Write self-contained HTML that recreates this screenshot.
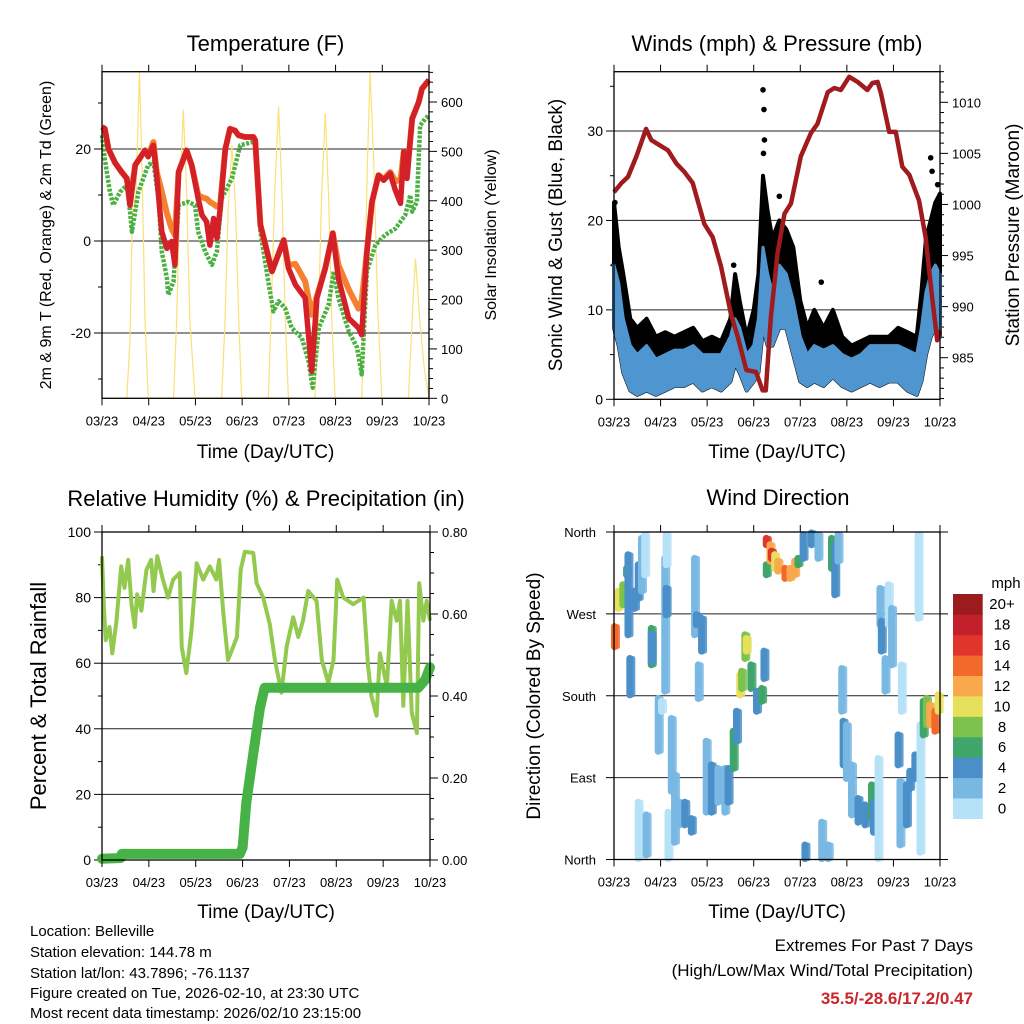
<!DOCTYPE html>
<html><head><meta charset="utf-8"><title>Station Meteogram</title>
<style>
html,body{margin:0;padding:0;background:#fff;}
svg{display:block;font-family:"Liberation Sans",Arial,sans-serif;}
</style></head>
<body>
<svg id="fig" width="1024" height="1024" viewBox="0 0 1024 1024" xmlns="http://www.w3.org/2000/svg">
<rect x="0" y="0" width="1024" height="1024" fill="#fff"/>
<g id="layer"></g>
<g font-size="15" fill="#000">
<text x="30" y="936">Location: Belleville</text>
<text x="30" y="957">Station elevation: 144.78 m</text>
<text x="30" y="978">Station lat/lon: 43.7896; -76.1137</text>
<text x="30" y="998">Figure created on Tue, 2026-02-10, at 23:30 UTC</text>
<text x="30" y="1018">Most recent data timestamp: 2026/02/10 23:15:00</text>
</g>
<g text-anchor="end">
<text x="973" y="951" font-size="17">Extremes For Past 7 Days</text>
<text x="973" y="976" font-size="17">(High/Low/Max Wind/Total Precipitation)</text>
<text x="973" y="1004" font-size="17" font-weight="bold" fill="#c8262a">35.5/-28.6/17.2/0.47</text>
</g>
</svg>
<script>
// ---------- shared x axis ----------
const dayLabels = ["03/23","04/23","05/23","06/23","07/23","08/23","09/23","10/23"];

// ---------- Temperature panel data ----------
const tempTimes = [0,0.06,0.14,0.28,0.42,0.53,0.6,0.71,0.92,0.99,1.1,1.17,1.28,1.39,1.49,1.56,1.64,1.81,1.92,2.06,2.14,2.24,2.31,2.39,2.46,2.53,2.64,2.74,2.85,2.92,3.06,3.24,3.28,3.39,3.64,3.89,3.99,4.14,4.35,4.49,4.6,4.78,4.94,5.06,5.28,5.49,5.56,5.67,5.78,5.92,6.03,6.17,6.28,6.39,6.46,6.53,6.64,6.78,6.85,7.0];
const temp2m = [24.8,24.4,20,17,15,13.6,7.8,16.5,19.7,18.3,20.8,14.3,2,-1.6,-0.1,-5.2,15,19.7,16.5,9.2,5.6,4.2,-0.9,4.9,0.6,7.1,20,24.4,24,23,22.6,22.6,21.9,3.5,-6.6,0.2,-5.9,-9.5,-12.4,-28.3,-12.4,-5.9,1.7,-8.1,-16.8,-18.9,-20.4,-2.3,8.5,14.3,13.2,14.7,11,8.2,19.4,13.6,26.6,30.2,33.1,35];
const temp9m = [24.8,24.4,20,17,15,13.6,8.5,16.5,19.7,18.5,21.5,15,10.7,6,2.7,1.3,15,19.7,16.5,10,9.5,9.2,8.5,8,7.5,8,20,24.4,24,23,22.6,22.6,21.9,3.5,-6.6,0.2,-5.2,-5,-8.8,-16,-12,-5.9,1.7,-5.2,-10.5,-14.7,-13,-2.3,8.5,14.3,13.5,15,13,13.3,19.4,14.5,26.6,30.2,33.1,35];
const dewTimes = [0,0.06,0.17,0.24,0.39,0.53,0.6,0.64,0.78,0.99,1.1,1.21,1.28,1.39,1.42,1.53,1.64,1.85,1.99,2.06,2.21,2.35,2.46,2.56,2.78,2.96,3.21,3.28,3.39,3.56,3.67,3.78,3.92,4.06,4.28,4.42,4.51,4.64,4.85,4.96,5.06,5.28,5.46,5.56,5.67,5.85,6.06,6.28,6.49,6.6,6.64,6.74,6.81,6.92,7.0];
const dew2m = [23,17.9,10.7,7.8,10.7,12.1,6.4,2,10.7,16.5,17.2,9.2,-2.3,-8.1,-11.7,-8.8,7.8,8.5,7.8,2,-2.3,-5.2,-2.3,9.2,13.6,20.8,21.5,20.8,2,-8.8,-15.3,-13.1,-14.6,-18.9,-21.1,-26.1,-31.9,-18.9,-13.9,-6.6,-12.4,-19.6,-23.2,-29,-6.6,-0.9,1.3,2.7,5.6,10,6.4,8.5,25.1,26.6,27.3];
const solarTimes = [0,0.53,0.6,0.66,0.72,0.8,0.86,0.92,0.99,1.53,1.6,1.67,1.74,1.81,1.88,1.99,2.56,2.63,2.7,2.78,2.86,2.93,2.99,3.56,3.62,3.7,3.78,3.85,3.92,3.99,4.56,4.63,4.7,4.78,4.85,4.92,4.99,5.56,5.62,5.68,5.74,5.82,5.9,5.99,6.56,6.6,6.66,6.71,6.8,6.9,7.0];
const solarVals = [0,0,120,420,380,663,450,160,0,0,160,420,584,420,160,0,0,150,380,513,380,150,0,0,170,420,590,420,170,0,0,160,410,577,410,160,0,0,190,470,661,470,190,0,0,80,200,283,160,60,0];
const tempTicks = [20,0,-20];
const solarTicks = [0,100,200,300,400,500,600];

// ---------- Wind panel data ----------
const windTimes = [0,0.1,0.2,0.35,0.5,0.7,0.9,1.1,1.3,1.5,1.7,1.9,2.1,2.3,2.5,2.6,2.7,2.85,3.0,3.1,3.2,3.3,3.4,3.55,3.7,3.85,4.0,4.15,4.3,4.5,4.7,4.9,5.1,5.3,5.5,5.7,5.9,6.1,6.3,6.5,6.6,6.7,6.8,6.9,7.0];
const windHi = [15,13,9,6,5,6,4.5,5,5.5,5.5,6,5,5,5,7,9,8,5,6,9,17,14,12,15,14,11,7,5,6,5.5,6,5,4.5,5,6,6,6,6,5.5,5,8,12,14,15,14];
const windLo = [8,6,3,1,0.5,1,0.5,1,1.5,1.5,2,1,1.5,1,2,4,3,1,2,3,8,6,6,8,8,5,2,1.5,2,1.5,2.5,1.5,1,1.5,2,1.5,2,2,1,0.5,2,5,7,8,7];
const gustHi = [22,17,14,9,8,9,7,7.5,7,7.5,8,6.5,7,6.5,9,14,11,7,10,14,25,21,18,20,19,17,11,8,10,8,10,7,6,6.5,7,7,7,8,7.5,7,12,18,20,22,23];
const gustOutTimes = [0.0,0.02,2.57,3.2,3.22,3.23,3.21,3.55,4.45,6.8,6.83,6.95];
const gustOutVals = [15,22,15,34.6,32.4,29,27.5,22.7,13.1,27,25.5,24];
const presTimes = [0,0.16,0.3,0.48,0.69,0.8,0.98,1.16,1.34,1.51,1.69,1.94,2.12,2.3,2.51,2.66,2.84,3.05,3.19,3.26,3.37,3.51,3.66,3.8,4.01,4.23,4.37,4.59,4.73,4.87,5.05,5.23,5.44,5.55,5.66,5.73,5.91,6.05,6.19,6.34,6.55,6.69,6.84,6.94,7.0];
const presVals = [1001.2,1002.1,1002.7,1004.7,1007.4,1006.3,1005.8,1005.3,1004,1003.2,1002.1,998.1,996.8,993.9,989.3,987,983.8,983.6,981.8,981.8,989,995.2,999.1,1000.1,1004.7,1007,1007.9,1011,1011.4,1011.2,1012.5,1012,1011.2,1011.9,1012,1010.9,1007.1,1007.1,1003.7,1002.9,1000.4,996.8,990.6,986.7,987.7];
const windTicks = [0,10,20,30];
const presTicks = [985,990,995,1000,1005,1010];

// ---------- RH panel data ----------
const rhTimes = [0,0.04,0.08,0.16,0.22,0.31,0.41,0.48,0.56,0.63,0.7,0.75,0.84,0.95,1.05,1.1,1.18,1.3,1.41,1.52,1.66,1.7,1.8,1.91,2.02,2.16,2.3,2.44,2.5,2.59,2.69,2.8,2.88,2.96,3.05,3.23,3.3,3.44,3.58,3.69,3.83,3.94,4.08,4.19,4.29,4.4,4.58,4.69,4.83,4.94,5.02,5.15,5.36,5.58,5.68,5.75,5.86,5.93,6.08,6.18,6.29,6.36,6.43,6.52,6.61,6.72,6.77,6.86,6.93,7.0];
const rhVals = [92.6,77,67,71,63,73,89.5,83,91.5,78,71,81,76,88.5,91.5,82,92.6,85.5,80,85.5,87.5,65,57,70,90.5,85.5,89.5,85.5,91.5,75,61,65,68,88.5,94,93.6,84.4,80,72,61,51,65,74,68,73,82,79,61,54,61,85.5,80,78,80,59,50,44,63,53,79,73,79,47,79,45,38.7,84.4,73,79,73];
const precipTimes = [0,0.4,0.42,2.94,3.0,3.08,3.23,3.37,3.47,6.75,6.9,7.0];
const precipVals = [0.003,0.005,0.015,0.015,0.03,0.14,0.26,0.37,0.42,0.42,0.44,0.47];
const rhTicks = [0,20,40,60,80,100];
const precipTicks = ["0.00","0.20","0.40","0.60","0.80"];

// ---------- Wind direction panel data ----------
const dirTimes = [0.01,0.09,0.19,0.27,0.30,0.34,0.44,0.52,0.52,0.59,0.66,0.69,0.80,0.80,0.95,1.02,1.09,1.12,1.12,1.16,1.23,1.30,1.41,1.52,1.66,1.73,1.77,1.88,1.81,1.98,2.09,2.23,2.38,2.45,2.56,2.63,2.70,2.74,2.81,2.84,2.94,3.06,3.17,3.22,3.27,3.27,3.35,3.38,3.45,3.52,3.67,3.78,3.88,3.95,4.06,4.24,4.38,4.10,4.46,4.60,4.67,4.74,4.81,4.89,4.92,4.99,5.10,5.24,5.39,5.53,5.57,5.67,5.71,5.74,5.82,5.89,5.96,6.10,6.17,6.14,6.28,6.35,6.46,6.53,6.57,6.64,6.71,6.78,6.89,6.96];
const dirLo = [234,276,280,313,247,181,276,287,1,295,313,5,214,217,119,163,185,324,269,1,75,19,38,38,30,247,258,229,177,52,52,63,52,63,100,130,181,188,221,229,188,163,174,199,346,313,328,331,320,317,309,309,313,324,331,346,331,1,1,1,320,291,328,163,104,89,49,41,38,45,30,1,258,229,185,258,214,104,163,16,38,78,89,265,8,137,148,148,141,163];
const dirHi = [256,295,302,320,335,221,295,324,63,353,357,49,254,248,177,174,331,357,298,52,155,93,63,63,45,331,269,265,214,130,104,100,100,100,141,163,203,207,247,243,214,185,188,229,353,324,346,339,335,328,320,320,328,331,357,359,357,16,41,16,353,346,357,210,152,148,104,67,60,82,63,111,298,262,221,302,276,137,214,86,82,97,115,357,148,174,177,170,163,181];
const dirSpeed = [14,10,8,6,4,4,4,4,1,2,1,2,6,4,2,0,2,1,4,1,2,2,2,4,4,2,4,4,2,2,4,2,2,4,6,4,10,8,8,10,6,4,6,4,16,6,12,16,10,12,14,12,12,6,4,4,2,4,2,2,6,4,2,2,4,2,2,4,4,6,4,1,2,4,2,1,2,4,1,2,4,4,4,1,1,6,8,12,14,10];
const dirTickLabels = ["North","East","South","West","North"];
const speedLabels = ["0","2","4","6","8","10","12","14","16","18","20+"];
const speedColors = ["#b6e2f8","#79b8e3","#4a8fc8","#3fa56a","#7cc24c","#e6e05a","#f9a94b","#f26a2b","#e0352a","#c2202a","#9b1b1e"];

// ---------- drawing helpers ----------
const NS = "http://www.w3.org/2000/svg";
const layer = document.getElementById("layer");
function mk(tag, attrs, parent){
  const e = document.createElementNS(NS, tag);
  for (const k in attrs) e.setAttribute(k, attrs[k]);
  (parent||layer).appendChild(e);
  return e;
}
function lin(d0,d1,r0,r1){ return v => r0 + (v-d0)/(d1-d0)*(r1-r0); }
function txt(x,y,s,size,anchor,parent,extra){
  const e = mk("text", Object.assign({x:x,y:y,"font-size":size,"text-anchor":anchor||"middle",fill:"#000"}, extra||{}), parent);
  e.textContent = s; return e;
}
function pathFrom(xs, ys, sx, sy){
  let d = "";
  for (let i=0;i<xs.length;i++) d += (i?"L":"M") + sx(xs[i]).toFixed(1) + "," + sy(ys[i]).toFixed(1);
  return d;
}
function bandFrom(xs, hi, lo, sx, sy){
  let d = "";
  for (let i=0;i<xs.length;i++) d += (i?"L":"M") + sx(xs[i]).toFixed(1) + "," + sy(hi[i]).toFixed(1);
  for (let i=xs.length-1;i>=0;i--) d += "L" + sx(xs[i]).toFixed(1) + "," + sy(lo[i]).toFixed(1);
  return d + "Z";
}
function xAxis(g, P, sx, labelY){
  for (let i=0;i<dayLabels.length;i++){
    const x = sx(i);
    const t1 = mk("line",{x1:x,y1:P.y1,x2:x,y2:P.y1+7,stroke:"#000","stroke-width":1},g);
    
    
    const t2 = mk("line",{x1:x,y1:P.y0,x2:x,y2:P.y0-7,stroke:"#000","stroke-width":1},g);
    
    
    const l = txt(x, P.y1+27, dayLabels[i], 13, "middle", g);
    
    
  }
  const at = txt((P.x0+P.x1)/2, labelY, "Time (Day/UTC)", 19, "middle", g);
  
  
}
function frame(g, P){
  const r = mk("rect",{x:P.x0,y:P.y0,width:P.x1-P.x0,height:P.y1-P.y0,fill:"none",stroke:"#000","stroke-width":1.3},g);
  
  
}
function grid(g, P, y){
  const l = mk("line",{x1:P.x0,y1:y,x2:P.x1,y2:y,stroke:"#222","stroke-width":1},g);
  
  
}
function tick(g, x, y, len){
  const l = mk("line",{x1:x,y1:y,x2:x+len,y2:y,stroke:"#000","stroke-width":1},g);
  
  
}

// ================= Temperature panel =================
(function(){
  const P = {x0:102,x1:429,y0:71.7,y1:398.3};
  const g = mk("g",{});
  
  
  const sx = lin(0,7,P.x0,P.x1);
  const sy = lin(0,20,241,149);
  const ss = lin(0,600,P.y1,102);
  const title = txt((P.x0+P.x1)/2, 51, "Temperature (F)", 22, "middle", g);
  
  
  for (const v of tempTicks) grid(g,P,sy(v));
  for (let v=-30; v<=30; v+=10){ tick(g,P.x0,sy(v), v%20===0?-8:-4); }
  for (const v of tempTicks){
    const l = txt(P.x0-11, sy(v)+5, String(v), 14, "end", g);
    
    
  }
  for (let v=0; v<=660; v+=20){ tick(g,P.x1,ss(v), v%100===0?8:4); }
  for (const v of solarTicks){
    const l = txt(P.x1+12, ss(v)+5, String(v), 13, "start", g);
    
    
  }
  const sol = mk("path",{d:pathFrom(solarTimes,solarVals,sx,ss),fill:"none",stroke:"#fbe07a","stroke-width":1.2},g);
  
  
  const dew = mk("path",{d:pathFrom(dewTimes,dew2m,sx,sy),fill:"none",stroke:"#4cb043","stroke-width":4.5,"stroke-dasharray":"3 1.5","stroke-linejoin":"round"},g);
  
  
  const t9 = mk("path",{d:pathFrom(tempTimes,temp9m,sx,sy),fill:"none",stroke:"#f4812f","stroke-width":6,"stroke-linejoin":"round"},g);
  
  
  const t2 = mk("path",{d:pathFrom(tempTimes,temp2m,sx,sy),fill:"none",stroke:"#d42027","stroke-width":5.5,"stroke-linejoin":"round"},g);
  
  
  frame(g,P);
  xAxis(g,P,sx,458);
  const yl = txt(0,0,"2m & 9m T (Red, Orange) & 2m Td (Green)",16,"middle",g,{transform:"translate(51,235) rotate(-90)"});
  
  
  const yr = txt(0,0,"Solar Insolation (Yellow)",16,"middle",g,{transform:"translate(496,235) rotate(-90)"});
  
  
})();

// ================= Wind panel =================
(function(){
  const P = {x0:614,x1:940,y0:71.7,y1:399.3};
  const g = mk("g",{});
  
  
  const sx = lin(0,7,P.x0,P.x1);
  const sy = lin(0,30,P.y1,131);
  const sp = lin(985,1010,357.7,102.3);
  const title = txt(777, 51, "Winds (mph) & Pressure (mb)", 22, "middle", g);
  
  
  for (const v of windTicks) if (v>0) grid(g,P,sy(v));
  for (let v=0; v<=35; v+=5){ tick(g,P.x0,sy(v), v%10===0?-8:-4); }
  for (const v of windTicks){
    const l = txt(P.x0-11, sy(v)+5, String(v), 14, "end", g);
    
    
  }
  for (let v=981; v<=1013; v+=1){ tick(g,P.x1,sp(v), v%5===0?8:4); }
  for (const v of presTicks){
    const l = txt(P.x1+12, sp(v)+5, String(v), 13, "start", g);
    
    
  }
  const gb = mk("path",{d:bandFrom(windTimes,gustHi,windLo,sx,sy),fill:"#000",stroke:"#000","stroke-width":4,"stroke-linejoin":"round"},g);
  
  
  for (let i=0;i<gustOutTimes.length;i++){
    const c = mk("circle",{cx:sx(gustOutTimes[i]),cy:sy(gustOutVals[i]),r:2.8,fill:"#000"},g);
    
    
  }
  const wb = mk("path",{d:bandFrom(windTimes,windHi,windLo,sx,sy),fill:"#4f96d0",stroke:"#4f96d0","stroke-width":3,"stroke-linejoin":"round"},g);
  
  
  const pr = mk("path",{d:pathFrom(presTimes,presVals,sx,sp),fill:"none",stroke:"#a01b1e","stroke-width":4.5,"stroke-linejoin":"round"},g);
  
  
  frame(g,P);
  xAxis(g,P,sx,458);
  const yl = txt(0,0,"Sonic Wind & Gust (Blue, Black)",19,"middle",g,{transform:"translate(562,235) rotate(-90)"});
  
  
  const yr = txt(0,0,"Station Pressure (Maroon)",19,"middle",g,{transform:"translate(1019,235) rotate(-90)"});
  
  
})();

// ================= RH panel =================
(function(){
  const P = {x0:102,x1:430,y0:532,y1:860};
  const g = mk("g",{});
  
  
  const sx = lin(0,7,P.x0,P.x1);
  const sy = lin(0,100,P.y1,P.y0);
  const sq = lin(0,0.8,P.y1,P.y0);
  const title = txt(266, 506, "Relative Humidity (%) & Precipitation (in)", 22, "middle", g);
  
  
  for (const v of rhTicks) if (v>0 && v<100) grid(g,P,sy(v));
  for (let v=0; v<=100; v+=10){ tick(g,P.x0,sy(v), v%20===0?-8:-4); }
  for (const v of rhTicks){
    const l = txt(P.x0-11, sy(v)+5, String(v), 14, "end", g);
    
    
  }
  for (let k=0;k<=16;k++){ tick(g,P.x1,sq(k*0.05), k%4===0?8:4); }
  for (const s of precipTicks){
    const l = txt(P.x1+12, sq(parseFloat(s))+5, s, 13, "start", g);
    
    
  }
  const rh = mk("path",{d:pathFrom(rhTimes,rhVals,sx,sy),fill:"none",stroke:"#93c94f","stroke-width":4,"stroke-linejoin":"round"},g);
  
  
  const pc = mk("path",{d:pathFrom(precipTimes,precipVals,sx,sq),fill:"none",stroke:"#47b347","stroke-width":10,"stroke-linejoin":"round","stroke-linecap":"round"},g);
  
  
  frame(g,P);
  xAxis(g,P,sx,918);
  const yl = txt(0,0,"Percent & Total Rainfall",22,"middle",g,{transform:"translate(46,696) rotate(-90)"});
  
  
})();

// ================= Wind direction panel =================
(function(){
  const P = {x0:614,x1:940,y0:532,y1:859.5};
  const g = mk("g",{});
  
  
  const sx = lin(0,7,P.x0,P.x1);
  const sy = lin(0,360,P.y1,P.y0);
  const title = txt(778, 505, "Wind Direction", 22, "middle", g);
  
  
  for (let i=1;i<4;i++) grid(g,P,sy(i*90));
  for (let i=0;i<dirTickLabels.length;i++){
    tick(g,P.x0,sy(i*90),-8);
    tick(g,P.x1,sy(i*90),8);
    const l = txt(P.x0-18, sy(i*90)+5, dirTickLabels[i], 13, "end", g);
    
    
  }
  for (let i=0;i<dirTimes.length;i++){
    const ci = Math.max(0, Math.min(10, Math.floor(dirSpeed[i]/2)));
    const x = sx(dirTimes[i]);
    const s = mk("line",{x1:x,x2:x,y1:sy(dirLo[i]),y2:sy(dirHi[i]),stroke:speedColors[ci],"stroke-width":7,"stroke-linecap":"round"},g);
    
    
    const s2 = mk("line",{x1:x+3,x2:x+3,y1:sy(dirLo[i]),y2:sy(dirHi[i]),stroke:speedColors[ci],"stroke-width":5,"stroke-linecap":"round","opacity":0.85},g);
    
    
  }
  frame(g,P);
  xAxis(g,P,sx,918);
  const yl = txt(0,0,"Direction (Colored By Speed)",19,"middle",g,{transform:"translate(540,696) rotate(-90)"});
  
  
  // colorbar
  const cb = mk("g",{},g);
  
  
  const top = 594, h = 224.7/11;
  for (let i=0;i<11;i++){
    const y = top + (10-i)*h;
    const r = mk("rect",{x:953,y:y.toFixed(1),width:29.7,height:(h+0.3).toFixed(1),fill:speedColors[i]},cb);
    
    
    const l = txt(1002, y+h/2+5, speedLabels[i], 15, "middle", cb);
    
    
  }
  const u = txt(1006, 588, "mph", 15, "middle", cb);
  
  
})();
</script>
</body></html>
